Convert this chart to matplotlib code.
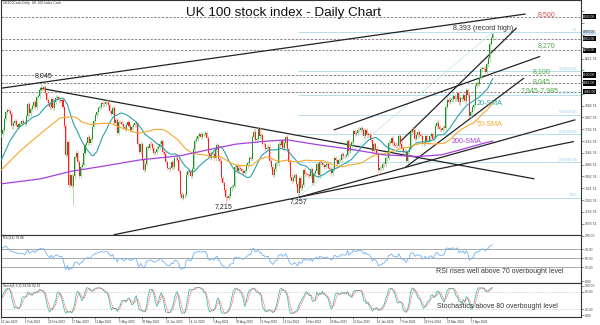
import numpy as np
import pandas as pd
import matplotlib
matplotlib.use("Agg")
import matplotlib.pyplot as plt
import matplotlib.transforms as mtransforms

plt.rcParams['font.family'] = ['Liberation Sans', 'DejaVu Sans']

# UK100 cash, daily closes from 10 Jan 2023 to 9 May 2024
closes = [
    # Jan 2023
    7694, 7725, 7794, 7844, 7860, 7851, 7830, 7747, 7770, 7784, 7757, 7745, 7761, 7765, 7785, 7772,
    # Feb
    7761, 7820, 7902, 7836, 7864, 7885, 7911, 7882, 7947, 7953, 7997, 8012, 8004, 8014, 7978, 7930,
    7907, 7878, 7935, 7876,
    # Mar
    7914, 7944, 7947, 7929, 7919, 7929, 7879, 7748, 7548, 7637, 7344, 7410, 7335, 7403, 7536, 7566,
    7499, 7405, 7471, 7484, 7564, 7620, 7632,
    # Apr
    7673, 7634, 7662, 7742, 7785, 7824, 7843, 7871, 7879, 7909, 7898, 7902, 7914, 7912, 7891, 7852,
    7831, 7870,
    # May
    7773, 7788, 7703, 7778, 7775, 7764, 7741, 7730, 7754, 7777, 7751, 7723, 7742, 7756, 7770, 7762,
    7627, 7570, 7627, 7522, 7446,
    # Jun
    7490, 7607, 7600, 7628, 7624, 7599, 7562, 7570, 7594, 7602, 7628, 7643, 7569, 7559, 7502, 7461,
    7453, 7461, 7500, 7471, 7531,
    # Jul
    7527, 7519, 7442, 7280, 7257, 7273, 7274, 7416, 7440, 7434, 7406, 7453, 7588, 7646, 7663, 7679,
    7691, 7676, 7692, 7694, 7699,
    # Aug
    7666, 7562, 7529, 7564, 7554, 7527, 7587, 7618, 7524, 7507, 7389, 7357, 7310, 7262, 7257, 7271,
    7320, 7333, 7338, 7465, 7473, 7439,
    # Sep
    7464, 7452, 7437, 7426, 7442, 7478, 7496, 7527, 7525, 7673, 7711, 7652, 7660, 7731, 7678, 7684,
    7624, 7625, 7593, 7601, 7608,
    # Oct
    7510, 7470, 7412, 7451, 7494, 7492, 7628, 7620, 7644, 7599, 7630, 7675, 7588, 7499, 7402, 7374,
    7389, 7414, 7354, 7291, 7392, 7322,
    # Nov
    7342, 7446, 7418, 7417, 7410, 7409, 7455, 7360, 7426, 7441, 7486, 7410, 7504, 7496, 7481, 7469,
    7484, 7488, 7460, 7455, 7423, 7453,
    # Dec
    7529, 7514, 7490, 7515, 7514, 7554, 7544, 7543, 7548, 7648, 7576, 7614, 7638, 7716, 7695, 7698,
    7725, 7722, 7733,
    # Jan 2024
    7721, 7682, 7723, 7689, 7694, 7684, 7652, 7576, 7625, 7594, 7558, 7446, 7459, 7461, 7487, 7485,
    7527, 7529, 7635, 7633, 7666, 7630,
    # Feb
    7622, 7615, 7612, 7681, 7628, 7595, 7573, 7573, 7512, 7568, 7597, 7711, 7728, 7719, 7662, 7684,
    7706, 7684, 7683, 7625, 7630,
    # Mar
    7682, 7640, 7646, 7679, 7692, 7659, 7669, 7747, 7772, 7743, 7727, 7722, 7738, 7737, 7882, 7930,
    7917, 7931, 7932, 7952,
    # Apr
    7935, 7937, 7975, 7911, 7943, 7934, 7961, 7923, 7996, 7965, 7820, 7847, 7877, 7895, 8023, 8044,
    8040, 8078, 8139, 8147, 8144,
    # May
    8121, 8172, 8213, 8313, 8354, 8381,
]
first_open = 7690

# long wicks: bar number -> extreme
wick_highs = {27: 8045, 335: 8393}
wick_lows = {49: 7206, 123: 7246, 153: 7215, 202: 7257, 257: 7404}

# moving averages before their windows fill, and the 200-day line
sma20_head_x = [0, 6, 12]
sma20_head = [7517, 7650, 7740]
sma50_head_x = [0, 13, 27, 40]
sma50_head = [7448, 7580, 7700, 7805]
sma200_x = [0, 27, 47, 68, 95, 122, 143, 160, 181, 195, 216, 238, 261, 284, 300, 313, 329, 335]
sma200 = [7352, 7387, 7437, 7471, 7517, 7545, 7590, 7625, 7645, 7654, 7620, 7590, 7551, 7540,
          7551, 7586, 7631, 7645]
rsi_head_x = [0, 3, 6, 10, 13]
rsi_head = [72, 77, 67, 62, 61]

levels = [8500, 8350, 8270, 8100, 8045, 7985]
swing_low, swing_high = 7257, 8393
fib_ratios = [0.0, 23.6, 38.2, 50.0, 61.8, 78.6, 100.0]

# trendlines as (bar, price) pairs
trendlines = [
    ((0, 8009), (357, 8518)),
    ((27, 8008), (363, 7387)),
    ((77, 7003), (390, 7642)),
    ((202, 7257), (391, 7791)),
    ((276, 7469), (356, 8076)),
    ((272, 7642), (351, 8420)),
    ((227, 7723), (367, 8226)),
]

date_labels = ['10 Jan 2023', '1 Feb 2023', '23 Feb 2023', '17 Mar 2023', '12 Apr 2023',
               '5 May 2023', '30 May 2023', '22 Jun 2023', '14 Jul 2023', '7 Aug 2023',
               '30 Aug 2023', '21 Sep 2023', '13 Oct 2023', '6 Nov 2023', '28 Nov 2023',
               '20 Dec 2023', '16 Jan 2024', '7 Feb 2024', '29 Feb 2024', '22 Mar 2024',
               '17 Apr 2024']

assert len(closes) == 336

c = np.array(closes, dtype=float)
x = np.arange(len(c))
o = np.r_[first_open, c[:-1]]
hi = np.maximum(o, c) + 15
lo = np.minimum(o, c) - 15
for k, v in wick_highs.items():
    hi[k] = v
for k, v in wick_lows.items():
    lo[k] = v

s = pd.Series(c)
sma20 = s.rolling(20).mean().to_numpy()
sma50 = s.rolling(50).mean().to_numpy()


def wilder_rsi(cl, n=14):
    d = np.diff(cl)
    up = np.clip(d, 0, None)
    dn = np.clip(-d, 0, None)
    out = np.full(len(cl), np.nan)
    ag, al = up[:n].mean(), dn[:n].mean()
    out[n] = 100 - 100 / (1 + ag / al)
    for i in range(n + 1, len(cl)):
        ag = (ag * (n - 1) + up[i - 1]) / n
        al = (al * (n - 1) + dn[i - 1]) / n
        out[i] = 100 - 100 / (1 + ag / al)
    return out


rsi = wilder_rsi(c)

hh = pd.Series(hi).rolling(5, min_periods=1).max()
ll = pd.Series(lo).rolling(5, min_periods=1).min()
stoch_k = 100 * (s - ll).rolling(3, min_periods=1).sum() / (hh - ll).rolling(3, min_periods=1).sum()
stoch_d = stoch_k.rolling(3, min_periods=1).mean()

fig = plt.figure(figsize=(6, 3.25), dpi=100)
ax = fig.add_axes([0.0015, 0.2778, 0.9668, 0.7222])
ax2 = fig.add_axes([0.0015, 0.1292, 0.9668, 0.1486], sharex=ax)
ax3 = fig.add_axes([0.0015, 0.0255, 0.9668, 0.1037], sharex=ax)

for a in (ax, ax2, ax3):
    for sp in a.spines.values():
        sp.set_linewidth(0.8)
        sp.set_color('#333333')
    a.yaxis.tick_right()
    a.tick_params(axis='y', labelsize=2.4, length=2, width=0.4, pad=1, colors='#444444')

ax.set_xlim(-0.34, 395.2)
ax.set_ylim(7002.5, 8614.6)

# horizontal levels
for lvl in levels:
    ax.axhline(lvl, ls=(0, (3, 2)), lw=0.55, color='#666666', zorder=1)

# fibonacci retracement of the Oct-23 low to the record high
rng = swing_high - swing_low
trans_y = mtransforms.blended_transform_factory(ax.transAxes, ax.transData)
for r in fib_ratios:
    p = swing_high - rng * r / 100
    ax.hlines(p, 202, 395.2, color='#a9d9ee', lw=0.6, zorder=1)
    lab = f'{r:.1f}' if r in (0.0, 100.0) else f'{r:.1f}({p:.2f})'
    ax.text(0.994, p + 4, lab, transform=trans_y, ha='right', va='bottom',
            fontsize=2.2, color='#8cc8e4')
ax.plot([202, 335], [swing_low, swing_high], color='#bfe3f2', lw=0.5, zorder=1)

# trendlines
for (x0, y0), (x1, y1) in trendlines:
    ax.plot([x0, x1], [y0, y1], color='#222222', lw=0.9, zorder=2)

# candles
up = c >= o
ax.vlines(x, lo, hi, colors=np.where(up, '#8fd08f', '#ff9c9c'), lw=0.5, zorder=3)
ax.bar(x, np.maximum(np.abs(c - o), 3), bottom=np.minimum(o, c), width=0.7,
       color=np.where(up, '#1f8f1f', '#ff1f1f'), lw=0, zorder=4)

# moving averages
ax.plot(np.r_[sma20_head_x, x[19:]], np.r_[sma20_head, sma20[19:]], color='#2aa3a8', lw=0.8, zorder=5)
ax.plot(np.r_[sma50_head_x, x[49:]], np.r_[sma50_head, sma50[49:]], color='#f7a72a', lw=0.8, zorder=5)
ax.plot(sma200_x, sma200, color='#a640dc', lw=0.9, zorder=5)

# price axis; labels hidden where a level box sits on top
ticks = 7078.74 + 81 * np.arange(19)
boxed = levels + [swing_high]
ax.set_yticks(ticks)
ax.set_yticklabels(['' if min(abs(t - b) for b in boxed) < 45 else f'{t:.2f}' for t in ticks])
for lvl in levels:
    ax.text(1.004, lvl, f'{lvl:.2f}', transform=trans_y, fontsize=2.4, color='white',
            va='center', ha='left', clip_on=False,
            bbox=dict(boxstyle='square,pad=0.2', fc='black', ec='none'))
ax.text(1.004, swing_high, f'{swing_high:.2f}', transform=trans_y, fontsize=2.4, color='#333333',
        va='center', ha='left', clip_on=False,
        bbox=dict(boxstyle='square,pad=0.2', fc='#c6dced', ec='none'))

# texts
ax.text(0.487, 0.945, 'UK 100 stock index - Daily Chart', transform=ax.transAxes,
        ha='center', va='center', fontsize=9.7, color='#111111')
ax.text(0.003, 0.996, 'UK100Cash,Daily  UK 100 Index Cash', transform=ax.transAxes,
        ha='left', va='top', fontsize=2.4, color='#333333')
green = '#4fa844'
ax.text(372, 8518, '8,500', color='#f24b4b', fontsize=5.1, ha='center', va='center')
ax.text(328.5, 8416, '8,393 (record high)', color='#333333', fontsize=5.1, ha='center', va='center')
ax.text(371.5, 8299, '8,270', color=green, fontsize=5.1, ha='center', va='center')
ax.text(368.5, 8124, '8,100', color=green, fontsize=5.1, ha='center', va='center')
ax.text(368.5, 8055, '8,045', color=green, fontsize=5.1, ha='center', va='center')
ax.text(367, 7990, '7,945-7,985', color=green, fontsize=5.1, ha='center', va='center')
ax.text(333, 7901, '20-SMA', color='#2aa3a8', fontsize=5.1, ha='center', va='center')
ax.text(333, 7757, '50-SMA', color='#f7a72a', fontsize=5.1, ha='center', va='center')
ax.text(317.5, 7641, '200-SMA', color='#a640dc', fontsize=5.1, ha='center', va='center')
ax.text(29, 8097, '8,045', color='#222222', fontsize=5.1, ha='center', va='center')
ax.text(151.5, 7195, '7,215', color='#222222', fontsize=5.1, ha='center', va='center')
ax.text(202.5, 7229, '7,257', color='#222222', fontsize=5.1, ha='center', va='center')

# RSI panel
ax2.set_ylim(-4.4, 102.2)
for lvl in (30, 50, 70):
    ax2.axhline(lvl, color='#9a9a9a', lw=0.6)
ax2.plot(np.r_[rsi_head_x, x[14:]], np.r_[rsi_head, rsi[14:]], color='#72b2f2', lw=0.6)
ax2.set_yticks([0, 30, 50, 70, 100])
ax2.yaxis.set_major_formatter(plt.FormatStrFormatter('%.2f'))
ax2.text(0.003, 0.98, f'RSI(14) {rsi[-1]:.2f}', transform=ax2.transAxes, ha='left', va='top',
         fontsize=2.4, color='#333333')
ax2.text(340, 22, 'RSI rises well above 70 overbought level', color='#333333', fontsize=5.0,
         ha='center', va='center')

# stochastics panel
ax3.set_ylim(-5.9, 110.3)
for lvl in (20, 80):
    ax3.axhline(lvl, color='#b0b0b0', lw=0.5, ls=(0, (1, 1.5)))
ax3.plot(x, stoch_k, color='#3fbfae', lw=0.6)
ax3.plot(x, stoch_d, color='#ff5a5a', lw=0.6, ls=(0, (1.5, 1)))
ax3.set_yticks([0, 20, 80, 100])
ax3.yaxis.set_major_formatter(plt.FormatStrFormatter('%.2f'))
ax3.text(0.003, 0.97, f'Stoch(5,3,3) {stoch_k.iloc[-1]:.2f} {stoch_d.iloc[-1]:.2f}',
         transform=ax3.transAxes, ha='left', va='top', fontsize=2.4, color='#333333')
ax3.text(338.5, 31, 'Stochastics above 80 overbought level', color='#333333', fontsize=5.0,
         ha='center', va='center')

ax.tick_params(axis='x', bottom=False, labelbottom=False)
ax2.tick_params(axis='x', bottom=False, labelbottom=False)
ax3.set_xticks(np.arange(len(date_labels)) * 16)
ax3.set_xticklabels(date_labels, ha='left')
ax3.tick_params(axis='x', labelsize=2.2, length=1.5, width=0.4, pad=0.8, colors='#333333')

fig.savefig('out.png', dpi=100)
